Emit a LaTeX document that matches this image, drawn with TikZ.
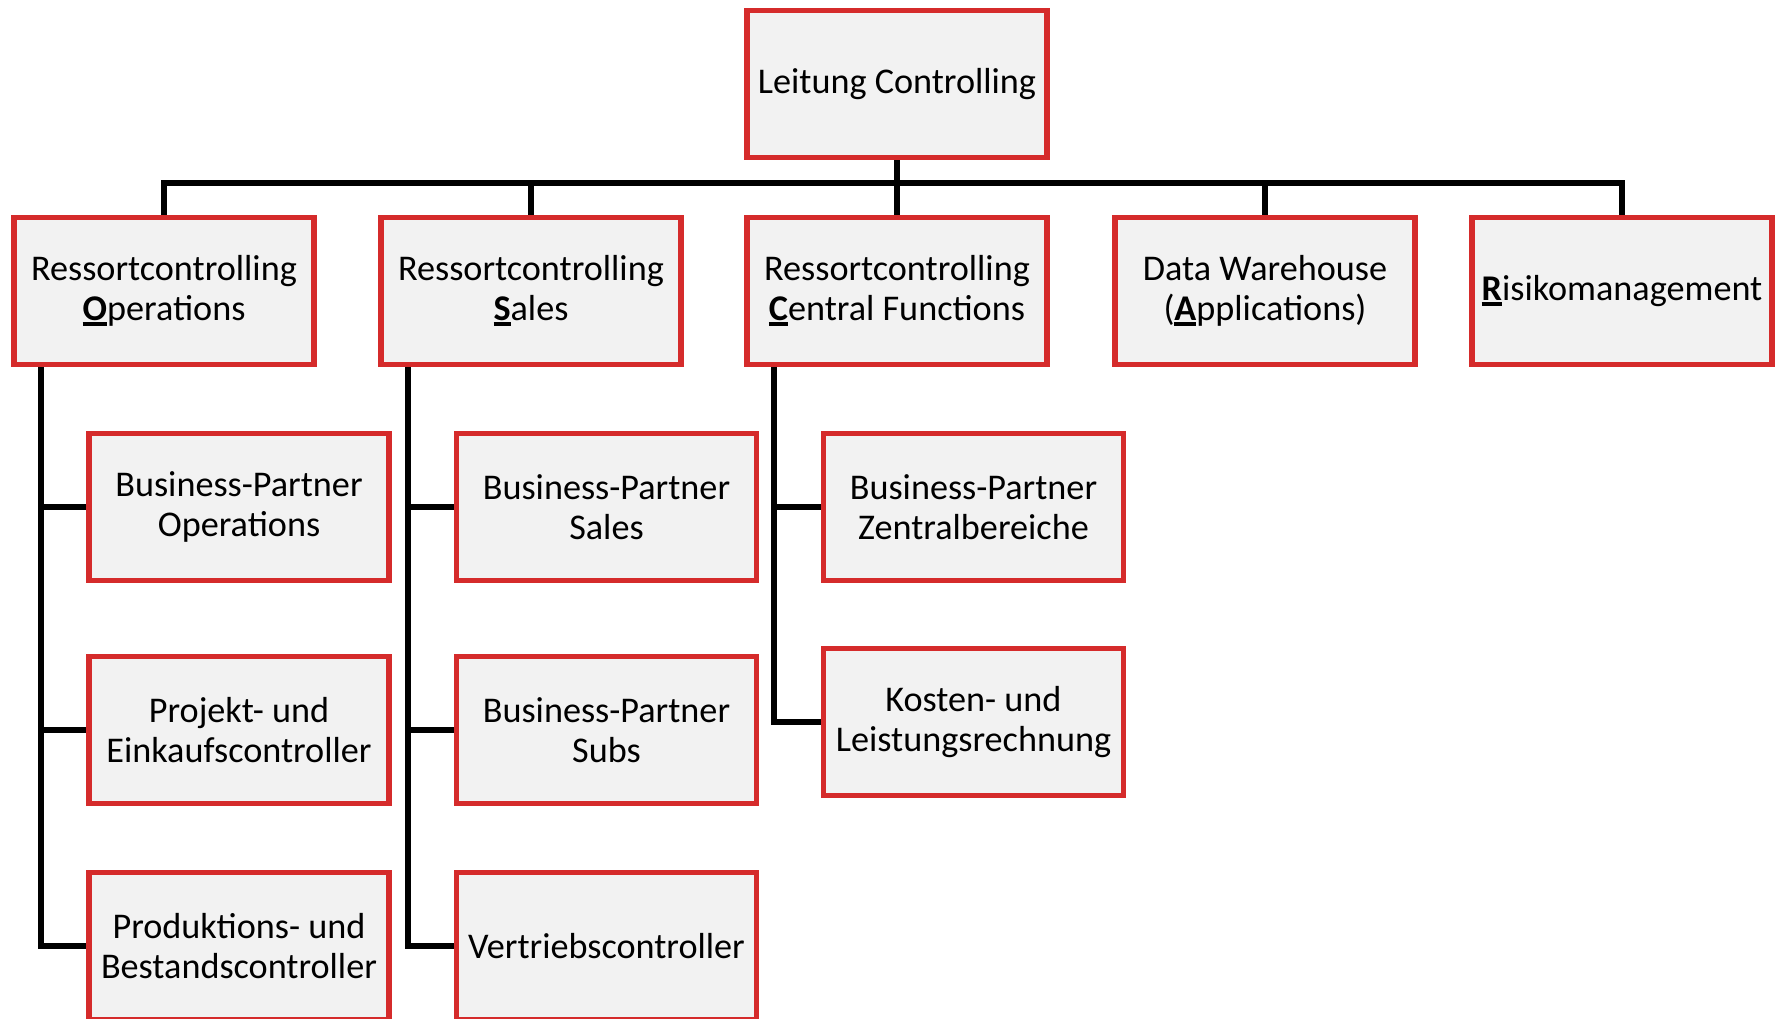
\documentclass[tikz,border=0pt]{standalone}
\usepackage{fontspec}
\setmainfont{Carlito}
\definecolor{boxred}{RGB}{213,43,43}
\definecolor{boxgray}{RGB}{242,242,242}
\newcommand{\keyletter}[1]{\setbox0\hbox{\textbf{#1}}\rlap{\rule[-0.33ex]{\wd0}{0.25ex}}\box0}

\begin{document}
\begin{tikzpicture}[
    unit/.style={rectangle, draw=boxred, fill=boxgray, line width=1.6pt,
        minimum width=3cm, minimum height=1.47cm, align=center, inner sep=0pt,
        font=\fontsize{10.3}{11.4}\selectfont},
    link/.style={line width=1.6pt, black}
    ]
    \useasboundingbox (0,0) rectangle (17.83,-10.18);
    
    % Head
    \node[unit] (Head) at (8.97,-0.84) {Leitung Controlling};
    
    % Second level
    \foreach \n/\x/\txt in {Ops/1.64/{Ressortcontrolling\\\keyletter{O}perations},
        Sales/5.31/{Ressortcontrolling\\\keyletter{S}ales},
        Central/8.97/{Ressortcontrolling\\\keyletter{C}entral Functions},
        DW/12.65/{Data Warehouse\\(\keyletter{A}pplications)},
        Risk/16.22/{\keyletter{R}isikomanagement}}
    {
    	\node[unit] (\n) at (\x,-2.91) {\txt};
    }
    
    % Third level
    \foreach \n/\x/\y/\txt in {BPOps/2.39/-5.07/{Business-Partner\\Operations},
        ProjEk/2.39/-7.30/{Projekt- und\\Einkaufscontroller},
        ProdBest/2.39/-9.46/{Produktions- und\\Bestandscontroller},
        BPSales/6.065/-5.07/{Business-Partner\\Sales},
        BPSubs/6.065/-7.30/{Business-Partner\\Subs},
        Vertrieb/6.065/-9.46/{Vertriebscontroller},
        BPZentral/9.735/-5.07/{Business-Partner\\Zentralbereiche},
        KLR/9.735/-7.22/{Kosten- und\\Leistungsrechnung}}
    {
    	\node[unit] (\n) at (\x,\y) {\txt};
    }
    
    % Connect Head - second level
    \coordinate (Bus) at (8.97,-1.83);
    \draw[link] (Head) -- (Bus);
    \foreach \n in {Ops,Sales,Central,DW,Risk}
    {
    	\draw[link] (\n.north) |- (Bus);
    }
    
    % Connect second - third level
    \foreach \p/\c in {Ops/BPOps, Ops/ProjEk, Ops/ProdBest,
        Sales/BPSales, Sales/BPSubs, Sales/Vertrieb,
        Central/BPZentral, Central/KLR}
    {
    	\draw[link] ([xshift=0.3cm]\p.south west) |- (\c.west);
    }
\end{tikzpicture}
\end{document}
